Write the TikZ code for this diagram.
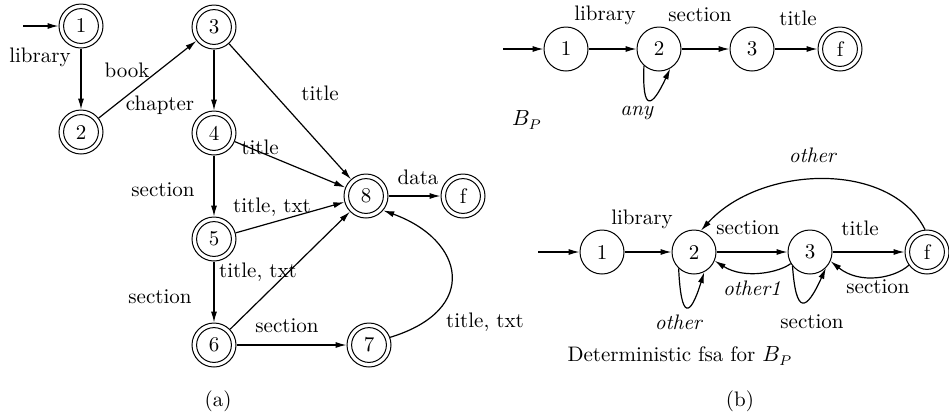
\documentclass[tikz,border=0pt]{standalone}
\usetikzlibrary{arrows.meta}
\begin{document}
\begin{tikzpicture}[x=0.5pt,y=-0.5pt,
  font=\fontsize{10.5}{12.6}\selectfont,
  fsastate/.style={circle,draw,line width=0.5pt,minimum size=22pt,inner sep=0pt},
  fsaaccept/.style={fsastate,path picture={\draw[line width=0.5pt] (path picture bounding box.center) circle (8.7pt);}},
  edge/.style={draw,line width=0.6pt,-{Latex[length=5.5pt,width=3pt]}},
  lbl/.style={inner sep=0pt}]
\useasboundingbox (0,0) rectangle (949,419);

% ---------- (a) ----------
\node[fsaaccept] (a1) at (81,26) {1};
\node[fsaaccept] (a2) at (81,132) {2};
\node[fsaaccept] (a3) at (214,27) {3};
\node[fsaaccept] (a4) at (214,133) {4};
\node[fsaaccept] (a5) at (214,239) {5};
\node[fsaaccept] (a6) at (214,345) {6};
\node[fsaaccept] (a7) at (369,345) {7};
\node[fsaaccept] (a8) at (366,196) {8};
\node[fsaaccept] (af) at (463,196) {f};
\coordinate (a0) at (23,26);

\draw[edge] (a0) -- (a1);
\draw[edge] (a1) -- (a2);
\draw[edge] (a2) -- (a3);
\draw[edge] (a3) -- (a4);
\draw[edge] (a3) -- (a8);
\draw[edge] (a4) -- (a8);
\draw[edge] (a4) -- (a5);
\draw[edge] (a5) -- (a8);
\draw[edge] (a5) -- (a6);
\draw[edge] (a6) -- (a8);
\draw[edge] (a6) -- (a7);
\draw[edge] (a8) -- (af);
\draw[edge] (a7.20) .. controls (480,310) and (465,240) .. (a8.-40);

\node[lbl] (la1) at (40,57) {library};
\node[lbl] (la2) at (127,70) {book};
\node[lbl] (la3) at (160,105) {chapter};
\node[lbl] (la4) at (320,93) {title};
\node[lbl] (la5) at (260,147) {title};
\node[lbl] (la6) at (163,190) {section};
\node[lbl] (la7) at (272,207) {title, txt};
\node[lbl] (la8) at (258,272) {title, txt};
\node[lbl] (la9) at (160,297) {section};
\node[lbl] (la10) at (287,326) {section};
\node[lbl] (la11) at (485,322) {title, txt};
\node[lbl] (la12) at (418,177) {data};
\node[lbl] (capa) at (218,401) {(a)};

% ---------- (b), B_P ----------
\node[fsastate] (p1) at (566,49) {1};
\node[fsastate] (p2) at (659,49) {2};
\node[fsastate] (p3) at (752,49) {3};
\node[fsaaccept] (pf) at (840,49) {f};
\coordinate (p0) at (503,49);

\draw[edge] (p0) -- (p1);
\draw[edge] (p1) -- (p2);
\draw[edge] (p2) -- (p3);
\draw[edge] (p3) -- (pf);
\draw[edge] (p2.-132) .. controls (642,113) and (652,108) .. (p2.-60);

\node[lbl] (lp1) at (605,15) {library};
\node[lbl] (lp2) at (700,15) {section};
\node[lbl] (lp3) at (798,18) {title};
\node[lbl] (lp4) at (637,113) {\textit{any}};
\node[lbl] (bp) at (527,120) {$B_P$};

% ---------- (b), deterministic fsa ----------
\node[fsastate] (q1) at (602,252) {1};
\node[fsastate] (q2) at (694,252) {2};
\node[fsastate] (q3) at (810,252) {3};
\node[fsaaccept] (qf) at (927,252) {f};
\coordinate (q0) at (538,252);

\draw[edge] (q0) -- (q1);
\draw[edge] (q1) -- (q2);
\draw[edge] (q2) -- (q3);
\draw[edge] (q3) -- (qf);
\draw[edge] (qf.95) .. controls (890,160) and (760,165) .. (q2.72);
\draw[edge] (q3.211) .. controls (780,272) and (745,280) .. (q2.-23);
\draw[edge] (qf.216) .. controls (895,278) and (860,285) .. (q3.-24);
\draw[edge] (q3.-141) .. controls (796,315) and (806,312) .. (q3.-45);
\draw[edge] (q2.-133) .. controls (681,320) and (690,318) .. (q2.-63);

\node[lbl] (lq1) at (642,219) {library};
\node[lbl] (lq2) at (748,228) {section};
\node[lbl] (lq3) at (860,228) {title};
\node[lbl] (lq4) at (813,155) {\textit{other}};
\node[lbl] (lq5) at (752,288) {\textit{other1}};
\node[lbl] (lq6) at (679,322) {\textit{other}};
\node[lbl] (lq7) at (812,322) {section};
\node[lbl] (lq8) at (878,287) {section};
\node[lbl] (det) at (680,356) {Deterministic fsa for $B_P$};
\node[lbl] (capb) at (740,401) {(b)};
\end{tikzpicture}
\end{document}
